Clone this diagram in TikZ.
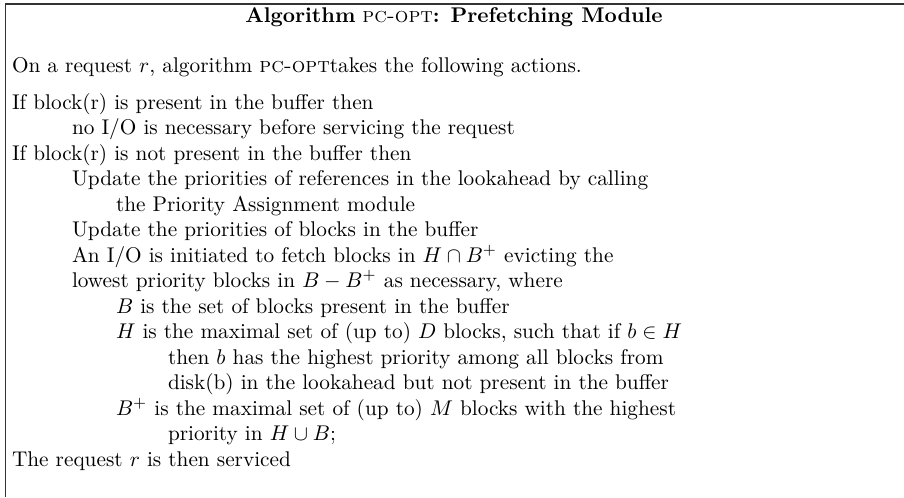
\documentclass[tikz,border=0pt]{standalone}
\begin{document}
\begin{tikzpicture}[x=0.47pt,y=-0.47pt,
  rule/.style={line width=0.6pt, draw=black!80},
  txt/.style={anchor=base west, inner sep=0pt, outer sep=0pt, font=\normalsize},
  head/.style={anchor=base, inner sep=0pt, outer sep=0pt, font=\normalsize}]
\useasboundingbox (0,0) rectangle (904,497);
% open frame: top rule and left rule only
\coordinate (tl) at (5.3,4);
\coordinate (tr) at (904,4);
\coordinate (bl) at (5.3,497);
\draw[rule] (tr) -- (tl) -- (bl);
% heading
\node[head] (title) at (454,22) {\textbf{Algorithm} \textsc{pc-opt}\textbf{: Prefetching Module}};
% body
\node[txt] (intro) at (12,72) {On a request $r$, algorithm \textsc{pc-opt}takes the following actions.};
\node[txt] (l0)  at (12,109)   {If block(r) is present in the buffer then};
\node[txt] (l1)  at (72,134.5) {no I/O is necessary before servicing the request};
\node[txt] (l2)  at (12,160)   {If block(r) is not present in the buffer then};
\node[txt] (l3)  at (72,185.5) {Update the priorities of references in the lookahead by calling};
\node[txt] (l4)  at (116,211)  {the Priority Assignment module};
\node[txt] (l5)  at (72,236.5) {Update the priorities of blocks in the buffer};
\node[txt] (l6)  at (72,262)   {An I/O is initiated to fetch blocks in $H \cap B^+$ evicting the};
\node[txt] (l7)  at (72,287.5) {lowest priority blocks in $B - B^+$ as necessary, where};
\node[txt] (l8)  at (116,313)  {$B$ is the set of blocks present in the buffer};
\node[txt] (l9)  at (116,338.5){$H$ is the maximal set of (up to) $D$ blocks, such that if $b \in H$};
\node[txt] (l10) at (168,364)  {then $b$ has the highest priority among all blocks from};
\node[txt] (l11) at (168,389.5){disk(b) in the lookahead but not present in the buffer};
\node[txt] (l12) at (116,415)  {$B^+$ is the maximal set of (up to) $M$ blocks with the highest};
\node[txt] (l13) at (168,440.5){priority in $H \cup B$;};
\node[txt] (l14) at (12,466)   {The request $r$ is then serviced};
\end{tikzpicture}
\end{document}
